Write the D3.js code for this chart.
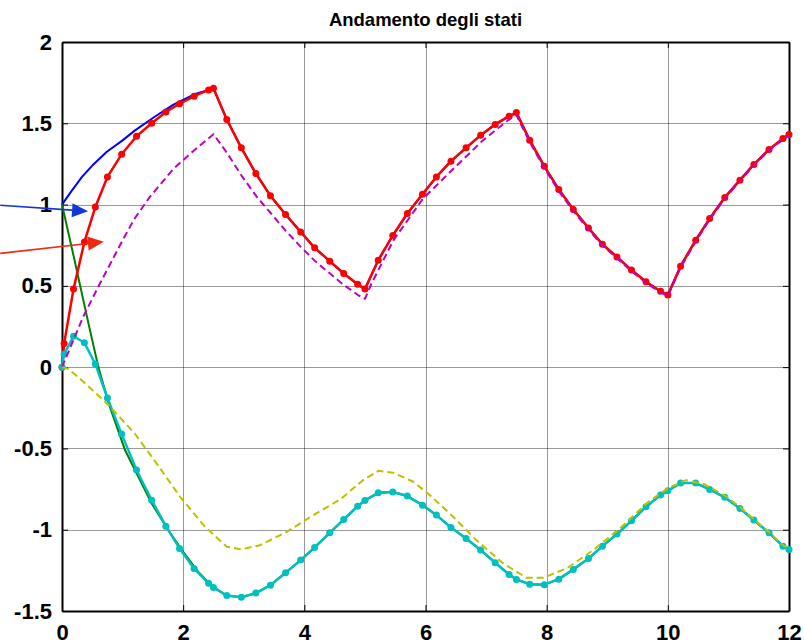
<!DOCTYPE html>
<html>
<head>
<meta charset="utf-8">
<script src="https://cdn.jsdelivr.net/npm/d3@7"></script>
<style>
  body { margin: 0; background: #fff; }
  svg { display: block; font-family: "Liberation Sans", Arial, sans-serif; }
</style>
</head>
<body>
<svg id="chart" width="804" height="644"></svg>
<script>
// --- data ---
const title = 'Andamento degli stati';
const xTicks = [0, 2, 4, 6, 8, 10, 12];
const yTicks = [-1.5, -1, -0.5, 0, 0.5, 1, 1.5, 2];

// solver time steps (shared by the two estimated states, drawn with dots)
const tSim = [0, 0.035, 0.19, 0.37, 0.55, 0.75, 0.985, 1.23, 1.48, 1.715,
              1.94, 2.18, 2.42, 2.5, 2.72, 2.96, 3.2, 3.44, 3.69, 3.94,
              4.17, 4.42, 4.65, 4.88, 5.0, 5.22, 5.46, 5.7, 5.95, 6.18,
              6.42, 6.67, 6.91, 7.15, 7.38, 7.5, 7.72, 7.96, 8.2, 8.44,
              8.69, 8.92, 9.16, 9.4, 9.64, 9.88, 10.0, 10.21, 10.46, 10.69,
              10.94, 11.19, 11.42, 11.67, 11.9, 12.0];
const x1Est = [0, 0.145, 0.48, 0.77, 0.985, 1.17, 1.31, 1.42, 1.50, 1.57,
               1.62, 1.667, 1.705, 1.715, 1.523, 1.349, 1.191, 1.054, 0.939, 0.832,
               0.734, 0.652, 0.576, 0.51, 0.48, 0.658, 0.81, 0.945, 1.064, 1.17,
               1.267, 1.349, 1.427, 1.493, 1.544, 1.566, 1.396, 1.236, 1.093, 0.97,
               0.856, 0.756, 0.678, 0.597, 0.525, 0.467, 0.443, 0.621, 0.781, 0.914,
               1.044, 1.15, 1.247, 1.339, 1.406, 1.431];
const x2Est = [0, 0.08, 0.19, 0.15, 0.02, -0.19, -0.412, -0.633, -0.818, -0.978,
               -1.115, -1.238, -1.33, -1.355, -1.405, -1.415, -1.39, -1.341, -1.265, -1.187,
               -1.109, -1.019, -0.937, -0.855, -0.82, -0.773, -0.768, -0.793, -0.849, -0.91,
               -0.986, -1.054, -1.125, -1.203, -1.275, -1.306, -1.335, -1.338, -1.304, -1.244,
               -1.177, -1.101, -1.027, -0.945, -0.859, -0.787, -0.761, -0.712, -0.713, -0.752,
               -0.801, -0.869, -0.941, -1.019, -1.101, -1.121];

// true states, start of the run (afterwards they sit under the estimates)
const tTrue = [0, 0.15, 0.33, 0.5, 0.74, 1.0, 1.2, 1.53, 1.84, 2.2, 2.5];
const x1True = [1.0, 1.08, 1.17, 1.24, 1.325, 1.395, 1.455, 1.54, 1.615, 1.68, 1.715];
const tTrue2 = [0, 0.2, 0.43, 0.6, 0.77, 1.04, 1.26, 1.48, 1.75, 1.98, 2.25, 2.5];
const x2True = [1.0, 0.67, 0.28, 0.0, -0.223, -0.51, -0.675, -0.838, -1.0, -1.125, -1.26, -1.355];

// dashed curves
const tX1b = [0, 0.35, 0.62, 1.0, 1.2, 1.45, 1.84, 2.17, 2.5, 2.72, 2.96, 3.21, 3.45,
              3.69, 3.94, 4.17, 4.42, 4.65, 4.88, 5.0, 5.11, 5.47, 5.96, 6.46, 6.95, 7.45,
              7.5, 7.72, 7.96, 8.2, 8.44, 8.69, 8.92, 9.16, 9.4, 9.64, 9.88, 10.0,
              10.21, 10.46, 10.69, 10.94, 11.19, 11.42, 11.67, 11.9, 12.0];
const x1b = [0, 0.31, 0.51, 0.78, 0.915, 1.047, 1.22, 1.33, 1.433, 1.32, 1.18, 1.05, 0.945,
             0.84, 0.74, 0.655, 0.577, 0.506, 0.445, 0.42, 0.515, 0.78, 1.037, 1.22, 1.396, 1.544,
             1.55, 1.385, 1.225, 1.083, 0.96, 0.846, 0.748, 0.67, 0.59, 0.518, 0.46, 0.437,
             0.612, 0.773, 0.907, 1.037, 1.144, 1.241, 1.333, 1.40, 1.425];
const tX2b = [0, 0.1, 0.325, 0.77, 1.2, 1.64, 1.95, 2.36, 2.72, 2.96, 3.27, 3.71, 4.15,
              4.59, 4.97, 5.22, 5.47, 5.8, 6.07, 6.4, 6.84, 7.28, 7.67, 7.94, 8.33, 8.77,
              9.21, 9.68, 10.0, 10.3, 10.6, 10.94, 11.19, 11.42, 11.67, 11.9, 12.0];
const x2b = [0, -0.01, -0.08, -0.234, -0.408, -0.633, -0.798, -0.982, -1.105, -1.121, -1.095, -1.013, -0.91,
             -0.814, -0.695, -0.638, -0.65, -0.705, -0.787, -0.9, -1.064, -1.207, -1.296, -1.296, -1.238, -1.125,
             -0.992, -0.828, -0.745, -0.695, -0.72, -0.79, -0.86, -0.935, -1.015, -1.095, -1.115];

// annotation arrows, data coords (they start left of the axes)
const arrows = [
  { from: [-1.02, 0.996], to: [0.43, 0.959], color: '#1038d8' },
  { from: [-1.02, 0.70],  to: [0.69, 0.772], color: '#ee2a10' }
];

// --- layout ---
const svg = d3.select('#chart');
const L = 62, R = 789, T = 42, B = 611;
const x = d3.scaleLinear().domain([0, 12]).range([L, R]);
const y = d3.scaleLinear().domain([-1.5, 2]).range([B, T]);

const zip = (ts, vs) => ts.map((t, i) => [t, vs[i]]);
const line = d3.line().x(d => x(d[0])).y(d => y(d[1]));

// grid
const grid = svg.append('g').attr('stroke', '#000').attr('stroke-opacity', 0.4).attr('stroke-width', 1);
grid.selectAll('.gx').data(xTicks.slice(1, -1)).join('line')
  .attr('x1', d => Math.round(x(d)) + 0.5).attr('x2', d => Math.round(x(d)) + 0.5)
  .attr('y1', T).attr('y2', B);
grid.selectAll('.gy').data(yTicks.slice(1, -1)).join('line')
  .attr('y1', d => Math.round(y(d)) + 0.5).attr('y2', d => Math.round(y(d)) + 0.5)
  .attr('x1', L).attr('x2', R);

// axes (ticks inside, box on)
const tickLen = 6;
const fmt = d => String(d);   // plain hyphen for negatives
const axB = svg.append('g').attr('transform', `translate(0,${B})`)
  .call(d3.axisBottom(x).tickValues(xTicks).tickSizeInner(-tickLen).tickSizeOuter(0).tickPadding(13).tickFormat(fmt));
const axT = svg.append('g').attr('transform', `translate(0,${T})`)
  .call(d3.axisTop(x).tickValues(xTicks).tickSizeInner(-tickLen).tickSizeOuter(0).tickFormat(''));
const axL = svg.append('g').attr('transform', `translate(${L},0)`)
  .call(d3.axisLeft(y).tickValues(yTicks).tickSizeInner(-tickLen).tickSizeOuter(0).tickPadding(10).tickFormat(fmt));
const axR = svg.append('g').attr('transform', `translate(${R},0)`)
  .call(d3.axisRight(y).tickValues(yTicks).tickSizeInner(-tickLen).tickSizeOuter(0).tickFormat(''));

[axB, axT, axL, axR].forEach(a => {
  a.select('.domain').attr('stroke', '#000').attr('stroke-width', 2);
  a.selectAll('.tick line').attr('stroke', '#000').attr('stroke-width', 1);
  a.selectAll('.tick text').attr('fill', '#000')
    .style('font-size', '22px').style('font-weight', 'bold')
    .style('font-family', '"Liberation Sans", Arial, sans-serif');
});
axB.selectAll('.tick text').attr('dy', '0.71em');

// title
svg.append('text')
  .attr('x', (L + R) / 2).attr('y', 26)
  .attr('text-anchor', 'middle')
  .style('font-size', '18.5px').style('font-weight', 'bold')
  .text(title);

// series
const series = [
  { pts: zip(tTrue, x1True).concat(zip(tSim, x1Est).filter(d => d[0] > 2.5)), color: '#0000ff', w: 2 },
  { pts: zip(tTrue2, x2True).concat(zip(tSim, x2Est).filter(d => d[0] > 2.5)), color: '#007f00', w: 2 },
  { pts: zip(tSim, x1Est), color: '#ff0000', w: 2.5, dots: true },
  { pts: zip(tSim, x2Est), color: '#00bfbf', w: 2.5, dots: true },
  { pts: zip(tX1b, x1b), color: '#bf00bf', w: 2, dash: '7,4' },
  { pts: zip(tX2b, x2b), color: '#bfbf00', w: 2, dash: '7,4' }
];

series.forEach(s => {
  const g = svg.append('g');
  g.append('path')
    .attr('d', line(s.pts))
    .attr('fill', 'none')
    .attr('stroke', s.color)
    .attr('stroke-width', s.w)
    .attr('stroke-linejoin', 'round')
    .attr('stroke-dasharray', s.dash || null);
  if (s.dots) {
    g.selectAll('circle').data(s.pts).join('circle')
      .attr('cx', d => x(d[0])).attr('cy', d => y(d[1]))
      .attr('r', 3.5).attr('fill', s.color);
  }
});

// arrows
arrows.forEach(a => {
  const x0 = x(a.from[0]), y0 = y(a.from[1]);
  const x1 = x(a.to[0]), y1 = y(a.to[1]);
  const ang = Math.atan2(y1 - y0, x1 - x0);
  const headL = 16, headW = 7;
  const bx = x1 - headL * Math.cos(ang), by = y1 - headL * Math.sin(ang);
  svg.append('line')
    .attr('x1', x0).attr('y1', y0).attr('x2', bx).attr('y2', by)
    .attr('stroke', a.color).attr('stroke-width', 1.6);
  const px = -Math.sin(ang) * headW, py = Math.cos(ang) * headW;
  svg.append('path')
    .attr('d', `M${x1},${y1}L${bx + px},${by + py}L${bx - px},${by - py}Z`)
    .attr('fill', a.color);
});
</script>
</body>
</html>
